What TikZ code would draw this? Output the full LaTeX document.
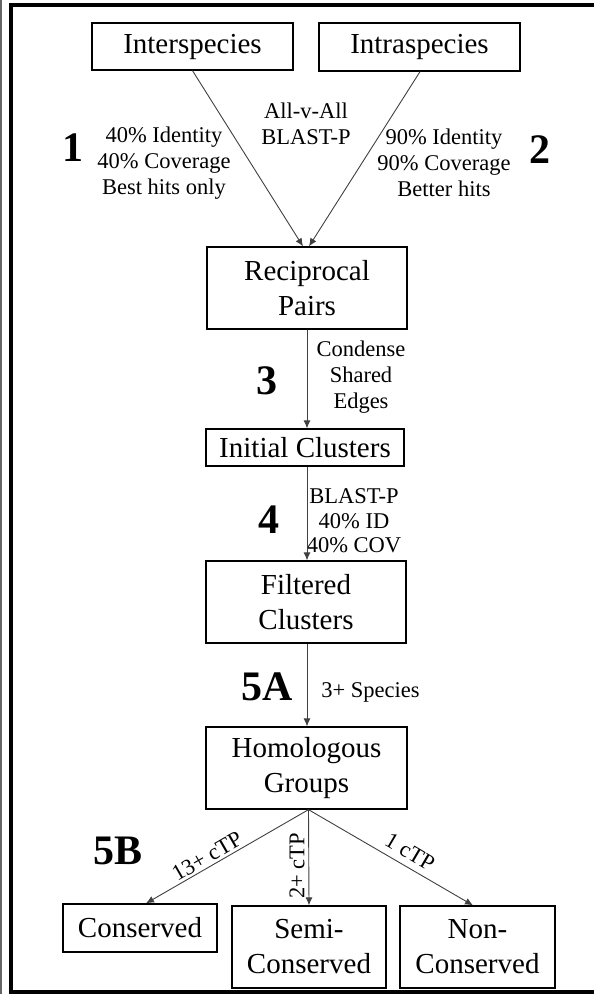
\documentclass[tikz,border=0pt]{standalone}
\usepackage{fontspec}
\setmainfont{Liberation Serif}
\usetikzlibrary{arrows.meta}
\begin{document}
\begin{tikzpicture}[x=1pt,y=-1pt,
  box/.style={draw=black,line width=1.3pt,inner sep=0pt,align=center,
              font=\fontsize{29}{35}\selectfont},
  lbl/.style={inner sep=0pt,align=center,font=\fontsize{22.5}{26}\selectfont},
  stepnum/.style={inner sep=0pt,font=\fontsize{42}{42}\selectfont\bfseries},
  flow/.style={draw=black!75,line width=0.9pt,-{Latex[length=8pt,width=7pt]}}]
  % page extent and frame
  \useasboundingbox (0,0) rectangle (594,994);
  \fill[black!60] (0,0) rectangle (1.5,994);
  \draw[line width=4pt,black] (11,1000) -- (11,5) -- (600,5);
  \draw[line width=4pt,black] (9,992) -- (600,992);

  % boxes
  \node[box,minimum width=201,minimum height=47] (inter) at (192.5,46.5) {Interspecies};
  \node[box,minimum width=201,minimum height=48] (intra) at (419.5,47) {Intraspecies};
  \node[box,minimum width=200,minimum height=82] (recip) at (307,288) {Reciprocal\\Pairs};
  \node[box,minimum width=198,minimum height=37] (initial) at (305,447.5) {Initial Clusters};
  \node[box,minimum width=200,minimum height=82] (filtered) at (306,602) {Filtered\\Clusters};
  \node[box,minimum width=201,minimum height=82] (homol) at (306.5,768) {Homologous\\Groups};
  \node[box,minimum width=154,minimum height=48] (cons) at (140,928) {Conserved};
  \node[box,minimum width=154,minimum height=82] (semi) at (309,947) {Semi-\\Conserved};
  \node[box,minimum width=155,minimum height=82] (non) at (477.5,947) {Non-\\Conserved};

  % step numbers
  \node[stepnum] (n1) at (73,148) {1};
  \node[stepnum] (n2) at (540,150) {2};
  \node[stepnum] (n3) at (267,381) {3};
  \node[stepnum] (n4) at (269,520) {4};
  \node[stepnum] (n5a) at (267,687) {5A};
  \node[stepnum] (n5b) at (118,851) {5B};

  % step descriptions
  \node[lbl] (l1) at (164,163) {40\% Identity\\40\% Coverage\\Best hits only};
  \node[lbl] (lall) at (306,123.5) {All-v-All\\BLAST-P};
  \node[lbl] (l2) at (444,163) {90\% Identity\\90\% Coverage\\Better hits};
  \node[lbl] (l3) at (361,377) {Condense\\Shared\\Edges};
  \node[lbl,font=\fontsize{22.5}{24.5}\selectfont] (l4) at (354,521) {BLAST-P\\40\% ID\\40\% COV};
  \node[lbl] (l5a) at (370.5,692) {3+ Species};

  % connectors
  \draw[flow] (inter.south) -- ([xshift=-4pt]recip.north);
  \draw[flow] ([xshift=0.5pt]intra.south) -- ([xshift=2pt]recip.north);
  \draw[flow] (recip.south) -- (recip.south |- initial.north);
  \draw[flow] (recip.south |- initial.south) -- (recip.south |- filtered.north);
  \draw[flow] (recip.south |- filtered.south) -- (recip.south |- homol.north);
  \draw[flow] ([xshift=2pt]homol.south) -- ([xshift=6pt]cons.north);
  \draw[flow] ([xshift=2pt]homol.south) -- (semi.north);
  \draw[flow] ([xshift=2pt]homol.south) -- ([xshift=-4.5pt]non.north);

  % branch labels
  \node[lbl,rotate=30] (b1) at (207,856) {13+ cTP};
  \node[lbl,rotate=90] (b2) at (297,866) {2+ cTP};
  \node[lbl,rotate=-30.6] (b3) at (410,852) {1 cTP};
\end{tikzpicture}
\end{document}
